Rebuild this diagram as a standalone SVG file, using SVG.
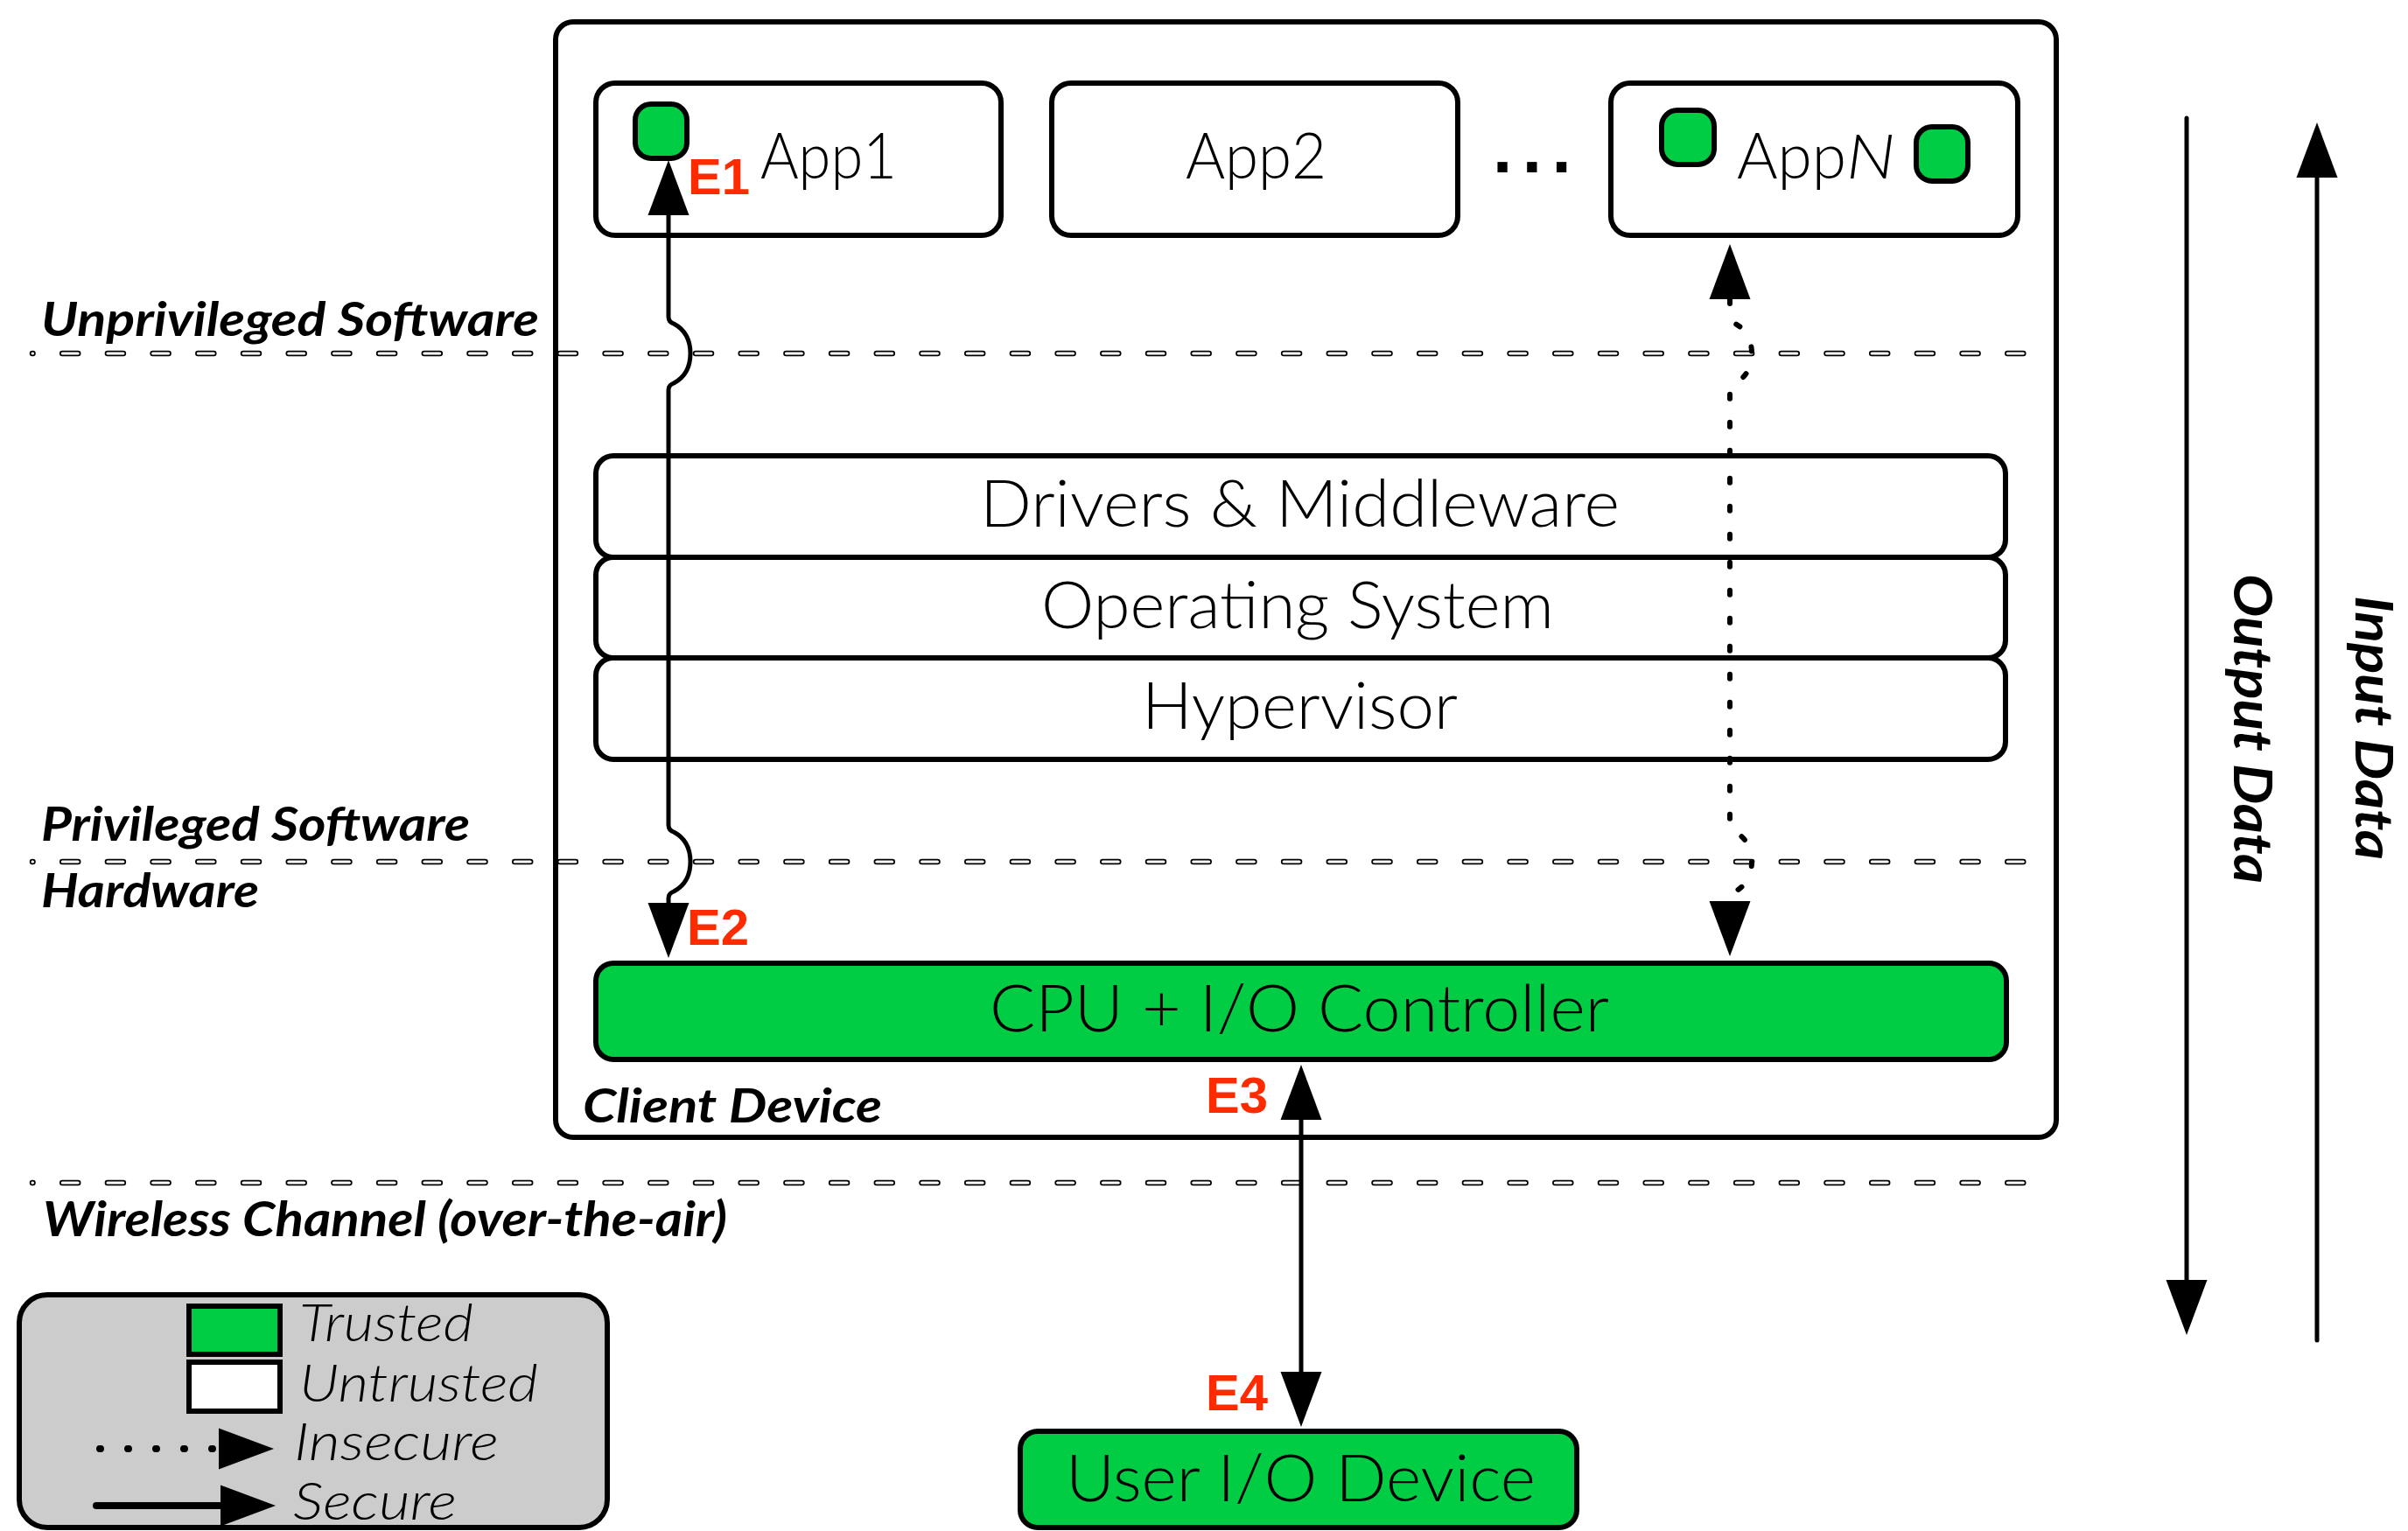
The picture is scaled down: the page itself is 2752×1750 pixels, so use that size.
<svg xmlns="http://www.w3.org/2000/svg" width="2752" height="1750" viewBox="0 0 2752 1750">
  <style>
    .box { fill: #ffffff; stroke: #000000; stroke-width: 6; }
    .trusted { fill: #00CC44; stroke: #000000; stroke-width: 6; }
    .lbl { font-family: Lato, 'Open Sans', 'Liberation Sans', sans-serif; font-weight: 300; fill: #000000; }
    .tier { font-family: Lato, 'Open Sans', 'Liberation Sans', sans-serif; font-weight: 700; font-style: italic; fill: #000000; }
    .legend-txt { font-family: Lato, 'Open Sans', 'Liberation Sans', sans-serif; font-weight: 300; font-style: italic; fill: #000000; }
    .tag { font-family: 'Liberation Sans', Arial, sans-serif; font-weight: 700; font-size: 58px; fill: #FF2B00; }
    .divider-out { fill: none; stroke: #000000; stroke-width: 6.5; stroke-linecap: round; stroke-dasharray: 18 33.7; stroke-dashoffset: 17.5; }
    .divider-in { fill: none; stroke: #ffffff; stroke-width: 3; stroke-linecap: round; stroke-dasharray: 18 33.7; stroke-dashoffset: 17.5; }
    .secure { fill: none; stroke: #000000; stroke-width: 5; }
    .insecure { fill: none; stroke: #000000; stroke-width: 6; stroke-linecap: round; stroke-dasharray: 5 27; }
  </style>
  <defs>
    <marker id="head" markerUnits="userSpaceOnUse" markerWidth="64" markerHeight="48" viewBox="0 0 64 48" refX="0" refY="24" orient="auto-start-reverse">
      <path d="M0,0.5 L63,24 L0,47.5 z" fill="#000000"/>
    </marker>
  </defs>

  <rect width="2752" height="1750" fill="#ffffff"/>

  <!-- client device frame -->
  <g id="client-device">
    <rect class="box" x="635" y="25" width="1715" height="1275" rx="20"/>
    <text class="tier" x="666" y="1283" font-size="54" textLength="342" lengthAdjust="spacingAndGlyphs">Client Device</text>
  </g>

  <!-- applications -->
  <g id="app1">
    <rect class="box" x="681" y="95" width="463" height="174" rx="22"/>
    <rect class="trusted" x="726" y="119" width="59" height="62" rx="18"/>
    <text class="lbl" x="869" y="204" font-size="72" textLength="156" lengthAdjust="spacingAndGlyphs">App1</text>
  </g>
  <g id="app2">
    <rect class="box" x="1202" y="95" width="464" height="174" rx="22"/>
    <text class="lbl" x="1355" y="204" font-size="72" textLength="161" lengthAdjust="spacingAndGlyphs">App2</text>
  </g>
  <g id="ellipsis">
    <text x="1706" y="197" font-family="'Liberation Sans', Arial, sans-serif" font-weight="700" font-size="80" letter-spacing="11.5">...</text>
  </g>
  <g id="appN">
    <rect class="box" x="1841" y="95" width="465" height="174" rx="22"/>
    <rect class="trusted" x="1899" y="126" width="60" height="62" rx="18"/>
    <rect class="trusted" x="2190" y="145" width="59" height="62" rx="18"/>
    <text class="lbl" y="204" font-size="72"><tspan x="1985" textLength="125" lengthAdjust="spacingAndGlyphs">App</tspan><tspan x="2110" font-style="italic" textLength="56" lengthAdjust="spacingAndGlyphs">N</tspan></text>
  </g>

  <!-- software stack -->
  <g id="drivers">
    <rect class="box" x="681" y="521" width="1611" height="116" rx="20"/>
    <text class="lbl" x="1120" y="602" font-size="75" textLength="731" lengthAdjust="spacingAndGlyphs">Drivers &amp; Middleware</text>
  </g>
  <g id="os">
    <rect class="box" x="681" y="637" width="1611" height="115" rx="20"/>
    <text class="lbl" x="1190" y="718" font-size="75" textLength="586" lengthAdjust="spacingAndGlyphs">Operating System</text>
  </g>
  <g id="hypervisor">
    <rect class="box" x="681" y="752" width="1611" height="116" rx="20"/>
    <text class="lbl" x="1305" y="833" font-size="75" textLength="361" lengthAdjust="spacingAndGlyphs">Hypervisor</text>
  </g>

  <!-- hardware -->
  <g id="cpu-io">
    <rect class="trusted" x="681" y="1101" width="1612" height="110" rx="20"/>
    <text class="lbl" x="1131" y="1179" font-size="75" textLength="708" lengthAdjust="spacingAndGlyphs">CPU + I/O Controller</text>
  </g>
  <g id="user-io">
    <rect class="trusted" x="1166" y="1636" width="636" height="110" rx="20"/>
    <text class="lbl" x="1218" y="1716" font-size="75" textLength="537" lengthAdjust="spacingAndGlyphs">User I/O Device</text>
  </g>

  <!-- privilege boundaries -->
  <g id="boundaries">
    <line class="divider-out" x1="37" y1="404" x2="2316" y2="404"/>
    <line class="divider-in" x1="37" y1="404" x2="2316" y2="404"/>
    <line class="divider-out" x1="37" y1="985" x2="2316" y2="985"/>
    <line class="divider-in" x1="37" y1="985" x2="2316" y2="985"/>
    <line class="divider-out" x1="37" y1="1352" x2="2316" y2="1352"/>
    <line class="divider-in" x1="37" y1="1352" x2="2316" y2="1352"/>
    <text class="tier" x="47" y="384" font-size="54" textLength="569" lengthAdjust="spacingAndGlyphs">Unprivileged Software</text>
    <text class="tier" x="47" y="961" font-size="54" textLength="490" lengthAdjust="spacingAndGlyphs">Privileged Software</text>
    <text class="tier" x="47" y="1037" font-size="54" textLength="249" lengthAdjust="spacingAndGlyphs">Hardware</text>
    <text class="tier" x="49" y="1413" font-size="56" textLength="782" lengthAdjust="spacingAndGlyphs">Wireless Channel (over-the-air)</text>
  </g>

  <!-- data paths -->
  <g id="connectors">
    <path class="secure" marker-start="url(#head)" marker-end="url(#head)"
          d="M764,246 V362 Q764,368 770,370 C785,378 789,392 789,404 C789,416 785,430 770,438 Q764,440 764,446 V943 Q764,949 770,951 C785,959 789,973 789,985 C789,997 785,1011 770,1019 Q764,1021 764,1027 V1032"/>
    <path class="insecure" marker-start="url(#head)" marker-end="url(#head)"
          d="M1977,342 V362 Q1977,368 1983,370 C1998,378 2002,392 2002,404 C2002,416 1998,430 1983,438 Q1977,440 1977,446 V943 Q1977,949 1983,951 C1998,959 2002,973 2002,985 C2002,997 1998,1011 1983,1019 Q1977,1021 1977,1027 V1030"/>
    <line class="secure" x1="1487" y1="1280" x2="1487" y2="1568" marker-start="url(#head)" marker-end="url(#head)"/>
    <text class="tag" x="786" y="222">E1</text>
    <text class="tag" x="785" y="1080">E2</text>
    <text class="tag" x="1378" y="1272">E3</text>
    <text class="tag" x="1378" y="1612">E4</text>
  </g>

  <!-- data direction -->
  <g id="output-data">
    <line class="secure" x1="2499" y1="135" x2="2499" y2="1463" stroke-linecap="round" marker-end="url(#head)"/>
    <text class="tier" transform="translate(2553,656) rotate(90)" font-size="62" textLength="354" lengthAdjust="spacingAndGlyphs">Output Data</text>
  </g>
  <g id="input-data">
    <line class="secure" x1="2648" y1="1532" x2="2648" y2="203" stroke-linecap="round" marker-end="url(#head)"/>
    <text class="tier" transform="translate(2692,681) rotate(90)" font-size="60" textLength="302" lengthAdjust="spacingAndGlyphs">Input Data</text>
  </g>

  <!-- key -->
  <g id="legend">
    <rect x="22" y="1480" width="672" height="266" rx="32" fill="#CCCCCC" stroke="#000000" stroke-width="6"/>
    <rect class="trusted" x="216" y="1493" width="104" height="55"/>
    <text class="legend-txt" x="342" y="1533" font-size="60" textLength="199" lengthAdjust="spacingAndGlyphs">Trusted</text>
    <rect class="box" x="216" y="1557" width="104" height="56"/>
    <text class="legend-txt" x="342" y="1602" font-size="60" textLength="273" lengthAdjust="spacingAndGlyphs">Untrusted</text>
    <line x1="114" y1="1656" x2="250" y2="1656" stroke="#000000" stroke-width="8" stroke-linecap="round" stroke-dasharray="1 31" marker-end="url(#head)"/>
    <text class="legend-txt" x="336" y="1669" font-size="60" textLength="234" lengthAdjust="spacingAndGlyphs">Insecure</text>
    <line x1="110" y1="1721" x2="252" y2="1721" stroke="#000000" stroke-width="8" stroke-linecap="round" marker-end="url(#head)"/>
    <text class="legend-txt" x="335" y="1737" font-size="60" textLength="187" lengthAdjust="spacingAndGlyphs">Secure</text>
  </g>
</svg>
